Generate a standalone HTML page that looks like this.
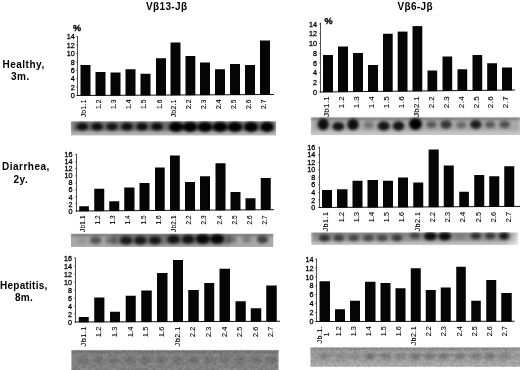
<!DOCTYPE html><html><head><meta charset="utf-8"><title>fig</title>
<style>html,body{margin:0;padding:0;background:#fff;}body{width:520px;height:370px;overflow:hidden;}svg{display:block;}text{opacity:0.999;font-family:"Liberation Sans", sans-serif;fill:#000;}.t{stroke:#000;stroke-width:0.1px;}.k{stroke:#000;stroke-width:0.28px;}</style></head><body>
<svg width="520" height="370" viewBox="0 0 520 370">
<defs><filter id="b1" x="-50%" y="-50%" width="200%" height="200%"><feGaussianBlur stdDeviation="1.3"/></filter><filter id="b15" x="-50%" y="-50%" width="200%" height="200%"><feGaussianBlur stdDeviation="1.5"/></filter><filter id="b2" x="-50%" y="-50%" width="200%" height="200%"><feGaussianBlur stdDeviation="1.8"/></filter><filter id="nz" x="0" y="0" width="100%" height="100%"><feTurbulence type="fractalNoise" baseFrequency="0.35" numOctaves="3" seed="7" result="t"/><feColorMatrix in="t" type="matrix" values="0 0 0 0 0  0 0 0 0 0  0 0 0 0 0  1.6 0 0 0 -0.45"/></filter><filter id="b0" x="-5%" y="-20%" width="110%" height="140%"><feGaussianBlur stdDeviation="0.5"/></filter></defs>
<rect width="520" height="370" fill="#fff"/>
<text x="146" y="9.6" font-size="10" font-weight="bold" letter-spacing="0.35">Vβ13-Jβ</text>
<text x="397.5" y="9.6" font-size="10" font-weight="bold" letter-spacing="0.35">Vβ6-Jβ</text>
<text x="2.5" y="68.2" font-size="10" font-weight="bold" letter-spacing="0.5">Healthy,</text>
<text x="11" y="79.7" font-size="10" font-weight="bold" letter-spacing="0.5">3m.</text>
<text x="2" y="169.5" font-size="10" font-weight="bold" letter-spacing="0.5">Diarrhea,</text>
<text x="13.5" y="182.5" font-size="10" font-weight="bold" letter-spacing="0.5">2y.</text>
<text x="0" y="288.8" font-size="10" font-weight="bold" letter-spacing="0.25">Hepatitis,</text>
<text x="15" y="301.2" font-size="10" font-weight="bold" letter-spacing="0.3">8m.</text>
<line x1="77.5" y1="36" x2="77.5" y2="96.0" stroke="#222" stroke-width="0.8"/>
<line x1="77.0" y1="95.5" x2="274" y2="94.5" stroke="#111" stroke-width="1"/>
<text class="k" x="74.7" y="98.1" font-size="7.2" text-anchor="end">0</text>
<line x1="76.0" y1="95.5" x2="77.5" y2="95.5" stroke="#333" stroke-width="0.6"/>
<text class="k" x="74.7" y="89.7" font-size="7.2" text-anchor="end">2</text>
<line x1="76.0" y1="87.1" x2="77.5" y2="87.1" stroke="#333" stroke-width="0.6"/>
<text class="k" x="74.7" y="81.3" font-size="7.2" text-anchor="end">4</text>
<line x1="76.0" y1="78.7" x2="77.5" y2="78.7" stroke="#333" stroke-width="0.6"/>
<text class="k" x="74.7" y="72.9" font-size="7.2" text-anchor="end">6</text>
<line x1="76.0" y1="70.3" x2="77.5" y2="70.3" stroke="#333" stroke-width="0.6"/>
<text class="k" x="74.7" y="64.5" font-size="7.2" text-anchor="end">8</text>
<line x1="76.0" y1="61.9" x2="77.5" y2="61.9" stroke="#333" stroke-width="0.6"/>
<text class="k" x="74.7" y="56.1" font-size="7.2" text-anchor="end">10</text>
<line x1="76.0" y1="53.5" x2="77.5" y2="53.5" stroke="#333" stroke-width="0.6"/>
<text class="k" x="74.7" y="47.7" font-size="7.2" text-anchor="end">12</text>
<line x1="76.0" y1="45.099999999999994" x2="77.5" y2="45.099999999999994" stroke="#333" stroke-width="0.6"/>
<text class="k" x="74.7" y="39.3" font-size="7.2" text-anchor="end">14</text>
<line x1="76.0" y1="36.699999999999996" x2="77.5" y2="36.699999999999996" stroke="#333" stroke-width="0.6"/>
<text transform="translate(73,31) scale(0.93,1)" font-size="9.8" font-weight="bold" stroke="#000" stroke-width="0.35">%</text>
<rect x="80.5" y="65" width="10.0" height="30.76" fill="#050505"/>
<text class="t" transform="translate(86.4,99.2) rotate(-90)" font-size="6.8" text-anchor="end" letter-spacing="0.3">Jb1.1</text>
<rect x="95.5" y="72" width="10.0" height="23.68" fill="#050505"/>
<text class="t" transform="translate(101.4,99.5) rotate(-90)" font-size="6.8" text-anchor="end" letter-spacing="0">1.2</text>
<rect x="110.5" y="72.5" width="10.0" height="23.11" fill="#050505"/>
<text class="t" transform="translate(116.4,99.5) rotate(-90)" font-size="6.8" text-anchor="end" letter-spacing="0">1.3</text>
<rect x="125.5" y="69.25" width="10.0" height="26.28" fill="#050505"/>
<text class="t" transform="translate(131.4,99.5) rotate(-90)" font-size="6.8" text-anchor="end" letter-spacing="0">1.4</text>
<rect x="140.5" y="73.75" width="10.0" height="21.7" fill="#050505"/>
<text class="t" transform="translate(146.4,99.5) rotate(-90)" font-size="6.8" text-anchor="end" letter-spacing="0">1.5</text>
<rect x="156" y="58.25" width="10" height="37.13" fill="#050505"/>
<text class="t" transform="translate(161.9,99.5) rotate(-90)" font-size="6.8" text-anchor="end" letter-spacing="0">1.6</text>
<rect x="170.5" y="42.5" width="10.0" height="52.8" fill="#050505"/>
<text class="t" transform="translate(176.4,99.2) rotate(-90)" font-size="6.8" text-anchor="end" letter-spacing="0.3">Jb2.1</text>
<rect x="185.5" y="56" width="9.8" height="39.23" fill="#050505"/>
<text class="t" transform="translate(191.3,99.5) rotate(-90)" font-size="6.8" text-anchor="end" letter-spacing="0">2.2</text>
<rect x="200" y="62.5" width="10" height="32.65" fill="#050505"/>
<text class="t" transform="translate(205.9,99.5) rotate(-90)" font-size="6.8" text-anchor="end" letter-spacing="0">2.3</text>
<rect x="215" y="69.25" width="10" height="25.82" fill="#050505"/>
<text class="t" transform="translate(220.9,99.5) rotate(-90)" font-size="6.8" text-anchor="end" letter-spacing="0">2.4</text>
<rect x="230" y="64" width="10" height="31.0" fill="#050505"/>
<text class="t" transform="translate(235.9,99.5) rotate(-90)" font-size="6.8" text-anchor="end" letter-spacing="0">2.5</text>
<rect x="245" y="65" width="10" height="29.92" fill="#050505"/>
<text class="t" transform="translate(250.9,99.5) rotate(-90)" font-size="6.8" text-anchor="end" letter-spacing="0">2.6</text>
<rect x="260" y="40.5" width="10" height="54.35" fill="#050505"/>
<text class="t" transform="translate(265.9,99.5) rotate(-90)" font-size="6.8" text-anchor="end" letter-spacing="0">2.7</text>
<line x1="320.5" y1="22.5" x2="320.5" y2="92.5" stroke="#222" stroke-width="0.8"/>
<line x1="320.0" y1="92" x2="515" y2="90" stroke="#111" stroke-width="1"/>
<text class="k" x="316.9" y="94.6" font-size="7.2" text-anchor="end">0</text>
<line x1="319.0" y1="92.0" x2="320.5" y2="92.0" stroke="#333" stroke-width="0.6"/>
<text class="k" x="316.9" y="84.9" font-size="7.2" text-anchor="end">2</text>
<line x1="319.0" y1="82.3" x2="320.5" y2="82.3" stroke="#333" stroke-width="0.6"/>
<text class="k" x="316.9" y="75.2" font-size="7.2" text-anchor="end">4</text>
<line x1="319.0" y1="72.6" x2="320.5" y2="72.6" stroke="#333" stroke-width="0.6"/>
<text class="k" x="316.9" y="65.5" font-size="7.2" text-anchor="end">6</text>
<line x1="319.0" y1="62.900000000000006" x2="320.5" y2="62.900000000000006" stroke="#333" stroke-width="0.6"/>
<text class="k" x="316.9" y="55.8" font-size="7.2" text-anchor="end">8</text>
<line x1="319.0" y1="53.2" x2="320.5" y2="53.2" stroke="#333" stroke-width="0.6"/>
<text class="k" x="316.9" y="46.1" font-size="7.2" text-anchor="end">10</text>
<line x1="319.0" y1="43.5" x2="320.5" y2="43.5" stroke="#333" stroke-width="0.6"/>
<text class="k" x="316.9" y="36.4" font-size="7.2" text-anchor="end">12</text>
<line x1="319.0" y1="33.800000000000004" x2="320.5" y2="33.800000000000004" stroke="#333" stroke-width="0.6"/>
<text class="k" x="316.9" y="26.7" font-size="7.2" text-anchor="end">14</text>
<line x1="319.0" y1="24.10000000000001" x2="320.5" y2="24.10000000000001" stroke="#333" stroke-width="0.6"/>
<text transform="translate(324.5,24) scale(0.93,1)" font-size="9.8" font-weight="bold" stroke="#000" stroke-width="0.35">%</text>
<rect x="323" y="55" width="10" height="37.22" fill="#050505"/>
<text class="t" transform="translate(329.2,95.9) rotate(-90)" font-size="8" text-anchor="end" letter-spacing="0.3">Jb1.1</text>
<rect x="338" y="46.5" width="10" height="45.57" fill="#050505"/>
<text class="t" transform="translate(344.2,95.8) rotate(-90)" font-size="8" text-anchor="end" letter-spacing="0.4">1.2</text>
<rect x="353" y="53" width="10" height="38.91" fill="#050505"/>
<text class="t" transform="translate(359.2,95.8) rotate(-90)" font-size="8" text-anchor="end" letter-spacing="0.4">1.3</text>
<rect x="368" y="65" width="10" height="26.76" fill="#050505"/>
<text class="t" transform="translate(374.2,95.8) rotate(-90)" font-size="8" text-anchor="end" letter-spacing="0.4">1.4</text>
<rect x="383" y="33.75" width="9.7" height="57.86" fill="#050505"/>
<text class="t" transform="translate(389.05,95.8) rotate(-90)" font-size="8" text-anchor="end" letter-spacing="0.4">1.5</text>
<rect x="397.7" y="31.6" width="9.8" height="59.86" fill="#050505"/>
<text class="t" transform="translate(403.8,95.8) rotate(-90)" font-size="8" text-anchor="end" letter-spacing="0.4">1.6</text>
<rect x="412.5" y="26.1" width="9.8" height="65.2" fill="#050505"/>
<text class="t" transform="translate(418.6,95.9) rotate(-90)" font-size="8" text-anchor="end" letter-spacing="0.3">Jb2.1</text>
<rect x="427.5" y="70.5" width="9.7" height="20.65" fill="#050505"/>
<text class="t" transform="translate(433.55,95.8) rotate(-90)" font-size="8" text-anchor="end" letter-spacing="0.4">2.2</text>
<rect x="442.5" y="56.5" width="9.7" height="34.5" fill="#050505"/>
<text class="t" transform="translate(448.55,95.8) rotate(-90)" font-size="8" text-anchor="end" letter-spacing="0.4">2.3</text>
<rect x="457.5" y="69.25" width="9.7" height="21.59" fill="#050505"/>
<text class="t" transform="translate(463.55,95.8) rotate(-90)" font-size="8" text-anchor="end" letter-spacing="0.4">2.4</text>
<rect x="472.5" y="55" width="9.7" height="35.69" fill="#050505"/>
<text class="t" transform="translate(478.55,95.8) rotate(-90)" font-size="8" text-anchor="end" letter-spacing="0.4">2.5</text>
<rect x="487.2" y="63.25" width="9.8" height="27.29" fill="#050505"/>
<text class="t" transform="translate(493.3,95.8) rotate(-90)" font-size="8" text-anchor="end" letter-spacing="0.4">2.6</text>
<rect x="502" y="67.5" width="10" height="22.88" fill="#050505"/>
<text class="t" transform="translate(508.2,95.8) rotate(-90)" font-size="8" text-anchor="end" letter-spacing="0.4">2.7</text>
<line x1="76.5" y1="153.75" x2="76.5" y2="211.5" stroke="#222" stroke-width="0.8"/>
<line x1="76.0" y1="211.0" x2="274" y2="209.7" stroke="#111" stroke-width="1"/>
<text class="k" x="72.5" y="213.6" font-size="7.2" text-anchor="end">0</text>
<line x1="75.0" y1="211.0" x2="76.5" y2="211.0" stroke="#333" stroke-width="0.6"/>
<text class="k" x="72.5" y="206.56" font-size="7.2" text-anchor="end">2</text>
<line x1="75.0" y1="203.96" x2="76.5" y2="203.96" stroke="#333" stroke-width="0.6"/>
<text class="k" x="72.5" y="199.52" font-size="7.2" text-anchor="end">4</text>
<line x1="75.0" y1="196.92" x2="76.5" y2="196.92" stroke="#333" stroke-width="0.6"/>
<text class="k" x="72.5" y="192.48" font-size="7.2" text-anchor="end">6</text>
<line x1="75.0" y1="189.88" x2="76.5" y2="189.88" stroke="#333" stroke-width="0.6"/>
<text class="k" x="72.5" y="185.44" font-size="7.2" text-anchor="end">8</text>
<line x1="75.0" y1="182.84" x2="76.5" y2="182.84" stroke="#333" stroke-width="0.6"/>
<text class="k" x="72.5" y="178.4" font-size="7.2" text-anchor="end">10</text>
<line x1="75.0" y1="175.8" x2="76.5" y2="175.8" stroke="#333" stroke-width="0.6"/>
<text class="k" x="72.5" y="171.36" font-size="7.2" text-anchor="end">12</text>
<line x1="75.0" y1="168.76" x2="76.5" y2="168.76" stroke="#333" stroke-width="0.6"/>
<text class="k" x="72.5" y="164.32" font-size="7.2" text-anchor="end">14</text>
<line x1="75.0" y1="161.72" x2="76.5" y2="161.72" stroke="#333" stroke-width="0.6"/>
<text class="k" x="72.5" y="157.28" font-size="7.2" text-anchor="end">16</text>
<line x1="75.0" y1="154.68" x2="76.5" y2="154.68" stroke="#333" stroke-width="0.6"/>
<rect x="79.25" y="206.25" width="9.65" height="5.0" fill="#050505"/>
<text class="t" transform="translate(85.17,215.3) rotate(-90)" font-size="6.4" text-anchor="end" letter-spacing="0.2">Jb1.1</text>
<rect x="94.25" y="188.75" width="10.0" height="22.4" fill="#050505"/>
<text class="t" transform="translate(100.35,215.5) rotate(-90)" font-size="6.4" text-anchor="end" letter-spacing="0">1.2</text>
<rect x="109.25" y="201.25" width="10.0" height="9.8" fill="#050505"/>
<text class="t" transform="translate(115.35,215.5) rotate(-90)" font-size="6.4" text-anchor="end" letter-spacing="0">1.3</text>
<rect x="124.25" y="187.5" width="10.25" height="23.45" fill="#050505"/>
<text class="t" transform="translate(130.47,215.5) rotate(-90)" font-size="6.4" text-anchor="end" letter-spacing="0">1.4</text>
<rect x="139.5" y="183" width="10.0" height="27.85" fill="#050505"/>
<text class="t" transform="translate(145.6,215.5) rotate(-90)" font-size="6.4" text-anchor="end" letter-spacing="0">1.5</text>
<rect x="155" y="167.5" width="9.7" height="43.25" fill="#050505"/>
<text class="t" transform="translate(160.95,215.5) rotate(-90)" font-size="6.4" text-anchor="end" letter-spacing="0">1.6</text>
<rect x="170" y="155.5" width="9.8" height="55.15" fill="#050505"/>
<text class="t" transform="translate(176.0,215.3) rotate(-90)" font-size="6.4" text-anchor="end" letter-spacing="0.2">Jb2.1</text>
<rect x="185" y="182" width="10" height="28.55" fill="#050505"/>
<text class="t" transform="translate(191.1,215.5) rotate(-90)" font-size="6.4" text-anchor="end" letter-spacing="0">2.2</text>
<rect x="200" y="176.25" width="10" height="34.2" fill="#050505"/>
<text class="t" transform="translate(206.1,215.5) rotate(-90)" font-size="6.4" text-anchor="end" letter-spacing="0">2.3</text>
<rect x="215.5" y="163.25" width="10.0" height="47.1" fill="#050505"/>
<text class="t" transform="translate(221.6,215.5) rotate(-90)" font-size="6.4" text-anchor="end" letter-spacing="0">2.4</text>
<rect x="230.5" y="192" width="10.0" height="18.25" fill="#050505"/>
<text class="t" transform="translate(236.6,215.5) rotate(-90)" font-size="6.4" text-anchor="end" letter-spacing="0">2.5</text>
<rect x="245.5" y="198.25" width="10.0" height="11.9" fill="#050505"/>
<text class="t" transform="translate(251.6,215.5) rotate(-90)" font-size="6.4" text-anchor="end" letter-spacing="0">2.6</text>
<rect x="260.75" y="178" width="10.0" height="32.05" fill="#050505"/>
<text class="t" transform="translate(266.85,215.5) rotate(-90)" font-size="6.4" text-anchor="end" letter-spacing="0">2.7</text>
<line x1="319.5" y1="146.8" x2="319.5" y2="208.0" stroke="#222" stroke-width="0.8"/>
<line x1="319.0" y1="207.5" x2="520" y2="206.4" stroke="#111" stroke-width="1"/>
<text class="k" x="315.3" y="210.1" font-size="7.2" text-anchor="end">0</text>
<line x1="318.0" y1="207.5" x2="319.5" y2="207.5" stroke="#333" stroke-width="0.6"/>
<text class="k" x="315.3" y="202.56" font-size="7.2" text-anchor="end">2</text>
<line x1="318.0" y1="199.96" x2="319.5" y2="199.96" stroke="#333" stroke-width="0.6"/>
<text class="k" x="315.3" y="195.02" font-size="7.2" text-anchor="end">4</text>
<line x1="318.0" y1="192.42" x2="319.5" y2="192.42" stroke="#333" stroke-width="0.6"/>
<text class="k" x="315.3" y="187.48" font-size="7.2" text-anchor="end">6</text>
<line x1="318.0" y1="184.88" x2="319.5" y2="184.88" stroke="#333" stroke-width="0.6"/>
<text class="k" x="315.3" y="179.94" font-size="7.2" text-anchor="end">8</text>
<line x1="318.0" y1="177.34" x2="319.5" y2="177.34" stroke="#333" stroke-width="0.6"/>
<text class="k" x="315.3" y="172.4" font-size="7.2" text-anchor="end">10</text>
<line x1="318.0" y1="169.8" x2="319.5" y2="169.8" stroke="#333" stroke-width="0.6"/>
<text class="k" x="315.3" y="164.86" font-size="7.2" text-anchor="end">12</text>
<line x1="318.0" y1="162.26" x2="319.5" y2="162.26" stroke="#333" stroke-width="0.6"/>
<text class="k" x="315.3" y="157.32" font-size="7.2" text-anchor="end">14</text>
<line x1="318.0" y1="154.72" x2="319.5" y2="154.72" stroke="#333" stroke-width="0.6"/>
<text class="k" x="315.3" y="149.78" font-size="7.2" text-anchor="end">16</text>
<line x1="318.0" y1="147.18" x2="319.5" y2="147.18" stroke="#333" stroke-width="0.6"/>
<rect x="322" y="190" width="10" height="17.76" fill="#050505"/>
<text class="t" transform="translate(328.3,211.6) rotate(-90)" font-size="7.3" text-anchor="end" letter-spacing="0.4">Jb1.1</text>
<rect x="337" y="189.25" width="10.5" height="18.43" fill="#050505"/>
<text class="t" transform="translate(343.55,212) rotate(-90)" font-size="7.3" text-anchor="end" letter-spacing="0">1.2</text>
<rect x="352.5" y="180.75" width="10.0" height="26.84" fill="#050505"/>
<text class="t" transform="translate(358.8,212) rotate(-90)" font-size="7.3" text-anchor="end" letter-spacing="0">1.3</text>
<rect x="367.5" y="180" width="10.5" height="27.51" fill="#050505"/>
<text class="t" transform="translate(374.05,212) rotate(-90)" font-size="7.3" text-anchor="end" letter-spacing="0">1.4</text>
<rect x="383" y="180.75" width="10" height="26.67" fill="#050505"/>
<text class="t" transform="translate(389.3,212) rotate(-90)" font-size="7.3" text-anchor="end" letter-spacing="0">1.5</text>
<rect x="398" y="177.5" width="10" height="29.84" fill="#050505"/>
<text class="t" transform="translate(404.3,212) rotate(-90)" font-size="7.3" text-anchor="end" letter-spacing="0">1.6</text>
<rect x="413.25" y="182.5" width="10.0" height="24.76" fill="#050505"/>
<text class="t" transform="translate(419.55,211.6) rotate(-90)" font-size="7.3" text-anchor="end" letter-spacing="0.4">Jb2.1</text>
<rect x="428.6" y="149.5" width="10.1" height="57.67" fill="#050505"/>
<text class="t" transform="translate(434.95,212) rotate(-90)" font-size="7.3" text-anchor="end" letter-spacing="0">2.2</text>
<rect x="443.75" y="165.5" width="10.0" height="41.59" fill="#050505"/>
<text class="t" transform="translate(450.05,212) rotate(-90)" font-size="7.3" text-anchor="end" letter-spacing="0">2.3</text>
<rect x="459.25" y="191.75" width="9.65" height="15.26" fill="#050505"/>
<text class="t" transform="translate(465.38,212) rotate(-90)" font-size="7.3" text-anchor="end" letter-spacing="0">2.4</text>
<rect x="474.25" y="175" width="10.0" height="31.92" fill="#050505"/>
<text class="t" transform="translate(480.55,212) rotate(-90)" font-size="7.3" text-anchor="end" letter-spacing="0">2.5</text>
<rect x="489.25" y="176.25" width="10.0" height="30.59" fill="#050505"/>
<text class="t" transform="translate(495.55,212) rotate(-90)" font-size="7.3" text-anchor="end" letter-spacing="0">2.6</text>
<rect x="504.25" y="166.25" width="10.0" height="40.51" fill="#050505"/>
<text class="t" transform="translate(510.55,212) rotate(-90)" font-size="7.3" text-anchor="end" letter-spacing="0">2.7</text>
<line x1="75.5" y1="257.5" x2="75.5" y2="322.5" stroke="#222" stroke-width="0.8"/>
<line x1="75.0" y1="322" x2="280" y2="321.25" stroke="#111" stroke-width="1"/>
<text class="k" x="72.1" y="324.6" font-size="7.2" text-anchor="end">0</text>
<line x1="74.0" y1="322.0" x2="75.5" y2="322.0" stroke="#333" stroke-width="0.6"/>
<text class="k" x="72.1" y="316.6" font-size="7.2" text-anchor="end">2</text>
<line x1="74.0" y1="314.0" x2="75.5" y2="314.0" stroke="#333" stroke-width="0.6"/>
<text class="k" x="72.1" y="308.6" font-size="7.2" text-anchor="end">4</text>
<line x1="74.0" y1="306.0" x2="75.5" y2="306.0" stroke="#333" stroke-width="0.6"/>
<text class="k" x="72.1" y="300.6" font-size="7.2" text-anchor="end">6</text>
<line x1="74.0" y1="298.0" x2="75.5" y2="298.0" stroke="#333" stroke-width="0.6"/>
<text class="k" x="72.1" y="292.6" font-size="7.2" text-anchor="end">8</text>
<line x1="74.0" y1="290.0" x2="75.5" y2="290.0" stroke="#333" stroke-width="0.6"/>
<text class="k" x="72.1" y="284.6" font-size="7.2" text-anchor="end">10</text>
<line x1="74.0" y1="282.0" x2="75.5" y2="282.0" stroke="#333" stroke-width="0.6"/>
<text class="k" x="72.1" y="276.6" font-size="7.2" text-anchor="end">12</text>
<line x1="74.0" y1="274.0" x2="75.5" y2="274.0" stroke="#333" stroke-width="0.6"/>
<text class="k" x="72.1" y="268.6" font-size="7.2" text-anchor="end">14</text>
<line x1="74.0" y1="266.0" x2="75.5" y2="266.0" stroke="#333" stroke-width="0.6"/>
<text class="k" x="72.1" y="260.6" font-size="7.2" text-anchor="end">16</text>
<line x1="74.0" y1="258.0" x2="75.5" y2="258.0" stroke="#333" stroke-width="0.6"/>
<rect x="78.75" y="317" width="10.0" height="5.27" fill="#050505"/>
<text class="t" transform="translate(85.55,326.35) rotate(-90)" font-size="7.3" text-anchor="end" letter-spacing="0.45">Jb1.1</text>
<rect x="94.25" y="297.5" width="10.15" height="24.71" fill="#050505"/>
<text class="t" transform="translate(101.12,326.8) rotate(-90)" font-size="7.3" text-anchor="end" letter-spacing="0">1.2</text>
<rect x="110" y="311.75" width="10" height="10.41" fill="#050505"/>
<text class="t" transform="translate(116.8,326.8) rotate(-90)" font-size="7.3" text-anchor="end" letter-spacing="0">1.3</text>
<rect x="125.7" y="295.75" width="10.05" height="26.35" fill="#050505"/>
<text class="t" transform="translate(132.53,326.8) rotate(-90)" font-size="7.3" text-anchor="end" letter-spacing="0">1.4</text>
<rect x="141.25" y="290.5" width="10.5" height="31.54" fill="#050505"/>
<text class="t" transform="translate(148.3,326.8) rotate(-90)" font-size="7.3" text-anchor="end" letter-spacing="0">1.5</text>
<rect x="157" y="273" width="10.5" height="48.98" fill="#050505"/>
<text class="t" transform="translate(164.05,326.8) rotate(-90)" font-size="7.3" text-anchor="end" letter-spacing="0">1.6</text>
<rect x="173" y="260" width="10" height="61.92" fill="#050505"/>
<text class="t" transform="translate(179.8,326.35) rotate(-90)" font-size="7.3" text-anchor="end" letter-spacing="0.45">Jb2.1</text>
<rect x="188.25" y="290" width="10.5" height="31.87" fill="#050505"/>
<text class="t" transform="translate(195.3,326.8) rotate(-90)" font-size="7.3" text-anchor="end" letter-spacing="0">2.2</text>
<rect x="204.25" y="283" width="10.0" height="38.81" fill="#050505"/>
<text class="t" transform="translate(211.05,326.8) rotate(-90)" font-size="7.3" text-anchor="end" letter-spacing="0">2.3</text>
<rect x="219.5" y="268.75" width="10.5" height="53.0" fill="#050505"/>
<text class="t" transform="translate(226.55,326.8) rotate(-90)" font-size="7.3" text-anchor="end" letter-spacing="0">2.4</text>
<rect x="235.5" y="301.25" width="10.25" height="20.44" fill="#050505"/>
<text class="t" transform="translate(242.43,326.8) rotate(-90)" font-size="7.3" text-anchor="end" letter-spacing="0">2.5</text>
<rect x="250.75" y="308.25" width="10.5" height="13.39" fill="#050505"/>
<text class="t" transform="translate(257.8,326.8) rotate(-90)" font-size="7.3" text-anchor="end" letter-spacing="0">2.6</text>
<rect x="266.25" y="285.5" width="10.5" height="36.08" fill="#050505"/>
<text class="t" transform="translate(273.3,326.8) rotate(-90)" font-size="7.3" text-anchor="end" letter-spacing="0">2.7</text>
<line x1="316.5" y1="258.5" x2="316.5" y2="322.0" stroke="#222" stroke-width="0.8"/>
<line x1="316.0" y1="321.5" x2="514.5" y2="321.25" stroke="#111" stroke-width="1"/>
<text class="k" x="313.4" y="324.1" font-size="7.2" text-anchor="end">0</text>
<line x1="315.0" y1="321.5" x2="316.5" y2="321.5" stroke="#333" stroke-width="0.6"/>
<text class="k" x="313.4" y="315.18" font-size="7.2" text-anchor="end">2</text>
<line x1="315.0" y1="312.58" x2="316.5" y2="312.58" stroke="#333" stroke-width="0.6"/>
<text class="k" x="313.4" y="306.26" font-size="7.2" text-anchor="end">4</text>
<line x1="315.0" y1="303.66" x2="316.5" y2="303.66" stroke="#333" stroke-width="0.6"/>
<text class="k" x="313.4" y="297.34" font-size="7.2" text-anchor="end">6</text>
<line x1="315.0" y1="294.74" x2="316.5" y2="294.74" stroke="#333" stroke-width="0.6"/>
<text class="k" x="313.4" y="288.42" font-size="7.2" text-anchor="end">8</text>
<line x1="315.0" y1="285.82" x2="316.5" y2="285.82" stroke="#333" stroke-width="0.6"/>
<text class="k" x="313.4" y="279.5" font-size="7.2" text-anchor="end">10</text>
<line x1="315.0" y1="276.9" x2="316.5" y2="276.9" stroke="#333" stroke-width="0.6"/>
<text class="k" x="313.4" y="270.58" font-size="7.2" text-anchor="end">12</text>
<line x1="315.0" y1="267.98" x2="316.5" y2="267.98" stroke="#333" stroke-width="0.6"/>
<text class="k" x="313.4" y="261.66" font-size="7.2" text-anchor="end">14</text>
<line x1="315.0" y1="259.06" x2="316.5" y2="259.06" stroke="#333" stroke-width="0.6"/>
<rect x="319.5" y="281.25" width="10.5" height="40.54" fill="#050505"/>
<text class="t" transform="translate(321.55,325.8) rotate(-90)" font-size="7.3" text-anchor="end" letter-spacing="0.35">Jb.1.</text>
<text class="t" transform="translate(329.45,334.4) rotate(-90)" font-size="7.3" text-anchor="middle">1</text>
<rect x="335" y="309.25" width="10" height="12.52" fill="#050505"/>
<text class="t" transform="translate(340.5,326.2) rotate(-90)" font-size="7.3" text-anchor="end" letter-spacing="0">1.2</text>
<rect x="350" y="300.75" width="10" height="21.0" fill="#050505"/>
<text class="t" transform="translate(355.5,326.2) rotate(-90)" font-size="7.3" text-anchor="end" letter-spacing="0">1.3</text>
<rect x="365" y="281.75" width="10.5" height="39.98" fill="#050505"/>
<text class="t" transform="translate(370.75,326.2) rotate(-90)" font-size="7.3" text-anchor="end" letter-spacing="0">1.4</text>
<rect x="380.5" y="283" width="10.0" height="38.71" fill="#050505"/>
<text class="t" transform="translate(386.0,326.2) rotate(-90)" font-size="7.3" text-anchor="end" letter-spacing="0">1.5</text>
<rect x="395.5" y="288.25" width="10.0" height="33.44" fill="#050505"/>
<text class="t" transform="translate(401.0,326.2) rotate(-90)" font-size="7.3" text-anchor="end" letter-spacing="0">1.6</text>
<rect x="410.75" y="268.25" width="10.0" height="53.42" fill="#050505"/>
<text class="t" transform="translate(416.25,325.84999999999997) rotate(-90)" font-size="7.3" text-anchor="end" letter-spacing="0.35">Jb2.1</text>
<rect x="425.75" y="290" width="10.0" height="31.66" fill="#050505"/>
<text class="t" transform="translate(431.25,326.2) rotate(-90)" font-size="7.3" text-anchor="end" letter-spacing="0">2.2</text>
<rect x="440.75" y="287.5" width="10.0" height="34.14" fill="#050505"/>
<text class="t" transform="translate(446.25,326.2) rotate(-90)" font-size="7.3" text-anchor="end" letter-spacing="0">2.3</text>
<rect x="456.25" y="266.75" width="9.55" height="54.87" fill="#050505"/>
<text class="t" transform="translate(461.52,326.2) rotate(-90)" font-size="7.3" text-anchor="end" letter-spacing="0">2.4</text>
<rect x="471.25" y="300.75" width="9.55" height="20.85" fill="#050505"/>
<text class="t" transform="translate(476.52,326.2) rotate(-90)" font-size="7.3" text-anchor="end" letter-spacing="0">2.5</text>
<rect x="486.25" y="280" width="10.0" height="41.58" fill="#050505"/>
<text class="t" transform="translate(491.75,326.2) rotate(-90)" font-size="7.3" text-anchor="end" letter-spacing="0">2.6</text>
<rect x="501.25" y="293" width="10.5" height="28.56" fill="#050505"/>
<text class="t" transform="translate(507.0,326.2) rotate(-90)" font-size="7.3" text-anchor="end" letter-spacing="0">2.7</text>
<clipPath id="cp0"><rect x="70.2" y="120.7" width="206.6" height="15.5"/></clipPath>
<g clip-path="url(#cp0)"><rect x="71" y="121.5" width="205" height="13.9" fill="rgb(180,180,180)" filter="url(#b0)"/>
<rect x="71" y="121.0" width="205" height="3" fill="#000" fill-opacity="0.15" filter="url(#b1)"/>
<rect x="72" y="122.3" width="203" height="9.0" fill="#000" fill-opacity="0.38" filter="url(#b2)"/>
<g filter="url(#b15)">
<ellipse cx="82.3" cy="126.6" rx="6.0" ry="3.8" fill="#000" fill-opacity="0.88"/>
<ellipse cx="97" cy="126.6" rx="6.0" ry="3.8" fill="#000" fill-opacity="0.88"/>
<ellipse cx="112" cy="126.6" rx="5.8" ry="3.7" fill="#000" fill-opacity="0.84"/>
<ellipse cx="127" cy="126.6" rx="6.0" ry="3.8" fill="#000" fill-opacity="0.88"/>
<ellipse cx="142" cy="126.6" rx="6.0" ry="3.8" fill="#000" fill-opacity="0.88"/>
<ellipse cx="157" cy="126.6" rx="6.0" ry="3.8" fill="#000" fill-opacity="0.88"/>
<ellipse cx="176" cy="127" rx="7.2" ry="5" fill="#000" fill-opacity="1"/>
<ellipse cx="190" cy="127" rx="7.2" ry="5" fill="#000" fill-opacity="1"/>
<ellipse cx="205" cy="127" rx="7.2" ry="5" fill="#000" fill-opacity="1"/>
<ellipse cx="220" cy="127" rx="7.2" ry="5" fill="#000" fill-opacity="1"/>
<ellipse cx="235" cy="127" rx="7.2" ry="5" fill="#000" fill-opacity="1"/>
<ellipse cx="251" cy="127" rx="7" ry="4.9" fill="#000" fill-opacity="1"/>
<ellipse cx="267" cy="127" rx="6.6" ry="5" fill="#000" fill-opacity="1"/>
</g>
</g>
<clipPath id="cp1"><rect x="310.2" y="116.8" width="210.6" height="19.0"/></clipPath>
<g clip-path="url(#cp1)"><rect x="311" y="117.6" width="209" height="17.4" fill="rgb(197,197,197)" filter="url(#b0)"/>
<rect x="311" y="117.1" width="209" height="3" fill="#000" fill-opacity="0.3" filter="url(#b1)"/>
<rect x="312" y="119" width="207" height="12" fill="#000" fill-opacity="0.15" filter="url(#b2)"/>
<g filter="url(#b2)">
<ellipse cx="323.2" cy="124.3" rx="5.6" ry="6.0" fill="#000" fill-opacity="0.92"/>
<ellipse cx="338.3" cy="126.3" rx="6.0" ry="4.4" fill="#000" fill-opacity="0.88"/>
<ellipse cx="353" cy="124.5" rx="5.8" ry="5.8" fill="#000" fill-opacity="0.92"/>
<ellipse cx="368.7" cy="125" rx="5" ry="3.8" fill="#000" fill-opacity="0.3"/>
<ellipse cx="383.7" cy="126" rx="6.1" ry="4.7" fill="#000" fill-opacity="0.88"/>
<ellipse cx="398.5" cy="126" rx="5.9" ry="4.7" fill="#000" fill-opacity="0.88"/>
<ellipse cx="415.5" cy="124" rx="6.5" ry="6.0" fill="#000" fill-opacity="1"/>
<ellipse cx="431.5" cy="124.5" rx="5.4" ry="3.6" fill="#000" fill-opacity="0.48"/>
<ellipse cx="446" cy="124.5" rx="5.7" ry="4.2" fill="#000" fill-opacity="0.68"/>
<ellipse cx="461.4" cy="125" rx="5" ry="3.4" fill="#000" fill-opacity="0.38"/>
<ellipse cx="475.8" cy="124.5" rx="5.9" ry="4.4" fill="#000" fill-opacity="0.82"/>
<ellipse cx="490" cy="124.5" rx="5.2" ry="3.6" fill="#000" fill-opacity="0.48"/>
<ellipse cx="504.6" cy="124.5" rx="5.4" ry="3.8" fill="#000" fill-opacity="0.52"/>
</g>
</g>
<clipPath id="cp2"><rect x="70.2" y="233.2" width="203.79999999999998" height="14.5"/></clipPath>
<g clip-path="url(#cp2)"><rect x="71" y="234.0" width="202.2" height="12.9" fill="rgb(168,168,168)" filter="url(#b0)"/>
<rect x="71" y="233.5" width="202.2" height="3" fill="#000" fill-opacity="0.25" filter="url(#b1)"/>
<rect x="112" y="235.5" width="118" height="9.0" fill="#000" fill-opacity="0.32" filter="url(#b2)"/>
<g filter="url(#b2)">
<ellipse cx="82" cy="240.3" rx="5" ry="3.2" fill="#000" fill-opacity="0.12"/>
<ellipse cx="95.7" cy="240.3" rx="5.8" ry="3.8" fill="#000" fill-opacity="0.5"/>
<ellipse cx="110.5" cy="240.3" rx="5.4" ry="3.5" fill="#000" fill-opacity="0.33"/>
<ellipse cx="126.2" cy="240.3" rx="6.2" ry="4.1" fill="#000" fill-opacity="0.78"/>
<ellipse cx="140.3" cy="240.3" rx="6.2" ry="4.1" fill="#000" fill-opacity="0.8"/>
<ellipse cx="155" cy="240.3" rx="6.2" ry="4.1" fill="#000" fill-opacity="0.8"/>
<ellipse cx="173.5" cy="239.3" rx="6.4" ry="4.3" fill="#000" fill-opacity="0.85"/>
<ellipse cx="188.2" cy="239.3" rx="6.4" ry="4.3" fill="#000" fill-opacity="0.85"/>
<ellipse cx="202.8" cy="239" rx="7" ry="4.8" fill="#000" fill-opacity="0.95"/>
<ellipse cx="217.2" cy="239" rx="7" ry="4.8" fill="#000" fill-opacity="0.95"/>
<ellipse cx="231.6" cy="239.5" rx="5.2" ry="3.5" fill="#000" fill-opacity="0.34"/>
<ellipse cx="247" cy="239.5" rx="5" ry="3.4" fill="#000" fill-opacity="0.25"/>
<ellipse cx="262.5" cy="239.5" rx="5.8" ry="3.9" fill="#000" fill-opacity="0.62"/>
</g>
</g>
<clipPath id="cp3"><rect x="310.5" y="232.0" width="208.29999999999998" height="13.7"/></clipPath>
<g clip-path="url(#cp3)"><rect x="311.3" y="232.8" width="206.7" height="12.1" fill="rgb(194,194,194)" filter="url(#b0)"/>
<rect x="311.3" y="232.3" width="206.7" height="3" fill="#000" fill-opacity="0.25" filter="url(#b1)"/>
<rect x="312.3" y="233.8" width="204.7" height="7.7" fill="#000" fill-opacity="0.26" filter="url(#b2)"/>
<linearGradient id="fg3" x1="0" x2="1" y1="0" y2="0"><stop offset="0" stop-color="#fff" stop-opacity="0"/><stop offset="1" stop-color="#fff" stop-opacity="0.75"/></linearGradient>
<g filter="url(#b15)">
<ellipse cx="324.5" cy="238" rx="5.6" ry="3.6" fill="#000" fill-opacity="0.66"/>
<ellipse cx="338.8" cy="238" rx="5.4" ry="3.4" fill="#000" fill-opacity="0.56"/>
<ellipse cx="353.7" cy="238" rx="5.4" ry="3.3" fill="#000" fill-opacity="0.5"/>
<ellipse cx="368.5" cy="238" rx="5.4" ry="3.3" fill="#000" fill-opacity="0.5"/>
<ellipse cx="382.2" cy="238" rx="5.4" ry="3.3" fill="#000" fill-opacity="0.5"/>
<ellipse cx="397" cy="237.8" rx="5.4" ry="3.4" fill="#000" fill-opacity="0.58"/>
<ellipse cx="415" cy="235.8" rx="5.2" ry="3.2" fill="#000" fill-opacity="0.5"/>
<ellipse cx="430.4" cy="236.3" rx="6.4" ry="4" fill="#000" fill-opacity="0.92"/>
<ellipse cx="444.8" cy="236.3" rx="6.4" ry="4" fill="#000" fill-opacity="0.92"/>
<ellipse cx="460.3" cy="237" rx="4.5" ry="2.8" fill="#000" fill-opacity="0.12"/>
<ellipse cx="475.8" cy="236" rx="5.4" ry="3.3" fill="#000" fill-opacity="0.66"/>
<ellipse cx="490.2" cy="236" rx="5.2" ry="3.2" fill="#000" fill-opacity="0.6"/>
<ellipse cx="504.6" cy="236" rx="5.8" ry="3.6" fill="#000" fill-opacity="0.84"/>
</g>
<rect x="505" y="231.8" width="15" height="14.1" fill="url(#fg3)"/>
</g>
<clipPath id="cp4"><rect x="70.7" y="349.5" width="208.6" height="22.3"/></clipPath>
<g clip-path="url(#cp4)"><rect x="71.5" y="350.3" width="207.0" height="20.7" fill="rgb(140,140,140)" filter="url(#b0)"/>
<rect x="71.5" y="349.8" width="207.0" height="3" fill="#000" fill-opacity="0.15" filter="url(#b1)"/>
<g filter="url(#b2)">
<ellipse cx="83" cy="360" rx="5" ry="3.6" fill="#000" fill-opacity="0.14"/>
<ellipse cx="98.5" cy="360" rx="5" ry="3.6" fill="#000" fill-opacity="0.17"/>
<ellipse cx="114" cy="360" rx="5" ry="3.6" fill="#000" fill-opacity="0.14"/>
<ellipse cx="130" cy="360" rx="5" ry="3.6" fill="#000" fill-opacity="0.16"/>
<ellipse cx="145.5" cy="360" rx="5" ry="3.6" fill="#000" fill-opacity="0.16"/>
<ellipse cx="161" cy="360" rx="5" ry="3.6" fill="#000" fill-opacity="0.14"/>
<ellipse cx="178" cy="360" rx="5" ry="3.6" fill="#000" fill-opacity="0.14"/>
<ellipse cx="193.5" cy="360" rx="5" ry="3.6" fill="#000" fill-opacity="0.16"/>
<ellipse cx="209" cy="360" rx="5" ry="3.6" fill="#000" fill-opacity="0.14"/>
<ellipse cx="224.5" cy="360" rx="5" ry="3.6" fill="#000" fill-opacity="0.14"/>
<ellipse cx="240" cy="360" rx="5" ry="3.6" fill="#000" fill-opacity="0.16"/>
<ellipse cx="256" cy="360" rx="5" ry="3.6" fill="#000" fill-opacity="0.14"/>
<ellipse cx="271.5" cy="360" rx="5" ry="3.6" fill="#000" fill-opacity="0.16"/>
</g>
<rect x="71.5" y="350.3" width="207.0" height="20.7" fill="#000" opacity="0.22000000000000003" filter="url(#nz)"/>
</g>
<clipPath id="cp5"><rect x="309.8" y="346.8" width="211.0" height="20.700000000000003"/></clipPath>
<g clip-path="url(#cp5)"><rect x="310.6" y="347.6" width="209.4" height="19.1" fill="rgb(168,168,168)" filter="url(#b0)"/>
<rect x="310.6" y="347.1" width="209.4" height="3" fill="#000" fill-opacity="0.15" filter="url(#b1)"/>
<rect x="311.6" y="353.5" width="207.4" height="3.5" fill="#000" fill-opacity="0.08" filter="url(#b2)"/>
<rect x="310.6" y="362.7" width="209.4" height="5" fill="#fff" fill-opacity="0.12" filter="url(#b2)"/>
<g filter="url(#b2)">
<ellipse cx="324.5" cy="356.5" rx="5" ry="3.4" fill="#000" fill-opacity="0.14"/>
<ellipse cx="340" cy="356.5" rx="5" ry="3.4" fill="#000" fill-opacity="0.08"/>
<ellipse cx="355" cy="356.5" rx="5" ry="3.4" fill="#000" fill-opacity="0.08"/>
<ellipse cx="370" cy="356.5" rx="5" ry="3.4" fill="#000" fill-opacity="0.22"/>
<ellipse cx="385.5" cy="356.5" rx="5" ry="3.4" fill="#000" fill-opacity="0.18"/>
<ellipse cx="400.5" cy="356.5" rx="5" ry="3.4" fill="#000" fill-opacity="0.14"/>
<ellipse cx="415.5" cy="356.5" rx="5" ry="3.4" fill="#000" fill-opacity="0.22"/>
<ellipse cx="429.5" cy="356.5" rx="5" ry="3.4" fill="#000" fill-opacity="0.22"/>
<ellipse cx="443.5" cy="356.5" rx="5" ry="3.4" fill="#000" fill-opacity="0.2"/>
<ellipse cx="459.7" cy="356.5" rx="5" ry="3.4" fill="#000" fill-opacity="0.2"/>
<ellipse cx="475.6" cy="356.5" rx="5" ry="3.4" fill="#000" fill-opacity="0.18"/>
<ellipse cx="489.5" cy="356.5" rx="5" ry="3.4" fill="#000" fill-opacity="0.22"/>
<ellipse cx="504" cy="356.5" rx="5" ry="3.4" fill="#000" fill-opacity="0.14"/>
</g>
<rect x="310.6" y="347.6" width="209.4" height="19.1" fill="#000" opacity="0.17600000000000002" filter="url(#nz)"/>
</g>
</svg></body></html>
